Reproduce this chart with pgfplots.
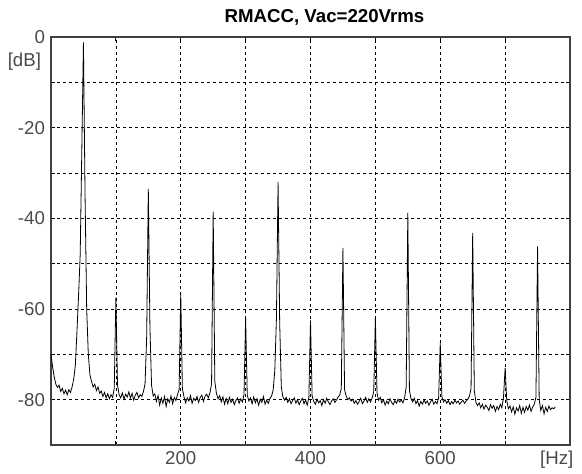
\documentclass[border=0pt]{standalone}
\usepackage{pgfplots}
\pgfplotsset{compat=1.18}
\usepackage{fontspec}
\setmainfont{Liberation Sans}
\definecolor{lbl}{HTML}{4A4A4A}
\begin{document}
\begin{tikzpicture}
\path[use as bounding box] (-38.25pt,-21.75pt) rectangle (398.25pt,333.75pt);
\begin{axis}[
    scale only axis,
    width=389.25pt, height=306pt,
    xmin=0, xmax=800,
    ymin=-90, ymax=0,
    xtick={100,200,...,700},
    xticklabels={,200,,400,,600,},
    ytick={-80,-70,...,0},
    yticklabels={-80,,-60,,-40,,-20,,0},
    grid=major,
    grid style={black, line width=0.5pt, dash pattern=on 2.5pt off 2pt},
    axis line style={black!75, line width=0.8pt},
    tick style={black, line width=0.6pt},
    major tick length=3pt,
    tick label style={font=\fontsize{14}{16}\selectfont, text=lbl},
    xticklabel style={yshift=-1pt},
    yticklabel style={xshift=-1pt},
    clip=false
]
\addplot[black, line width=0.6pt, mark=none] coordinates {
(0,-70.0) (2.5,-72.8) (5,-75.0) (7.5,-76.6) (10,-77.3) (12.5,-76.8) (15,-78.2) (17.5,-77.5) (20,-78.7) (22.5,-77.9)
(25,-78.9) (27.5,-77.8) (30,-78.4) (32.5,-77.2) (35,-75.5) (37.5,-72.5) (40,-65) (42.5,-57) (45,-48) (47.5,-25)
(50,-1.2) (52.5,-35) (55,-60) (57.5,-70) (60,-74.5) (62.5,-76.0) (65,-77.2) (67.5,-76.6) (70,-78.0)
(72.5,-77.2) (75,-78.6) (77.5,-78.1) (80,-79.3) (82.5,-78.4) (85,-79.6) (87.5,-78.7) (90,-79.8) (92.5,-78.9) (95,-79.5)
(97.5,-77.5) (100,-57.5) (102.5,-76.8) (105,-78.9) (107.5,-79.6) (110,-78.5) (112.5,-79.9) (115,-78.8) (117.5,-79.4) (120,-78.3)
(122.5,-79.7) (125,-78.6) (127.5,-80.1) (130,-79.0) (132.5,-78.4) (135,-79.6) (137.5,-78.9) (140,-79.3) (142.5,-78.2) (145,-76.5)
(147.5,-66) (150,-33.5) (152.5,-64) (155,-76.8) (157.5,-79.2) (160,-78.7) (162.5,-80.4) (165,-79.1) (167.5,-81.2) (170,-79.6)
(172.5,-80.8) (175,-79.3) (177.5,-81.5) (180,-79.8) (182.5,-80.6) (185,-79.2) (187.5,-80.9) (190,-79.5) (192.5,-80.2) (195,-78.9)
(197.5,-77.8) (200,-56.5) (202.5,-77.5) (205,-79.4) (207.5,-80.7) (210,-79.6) (212.5,-80.3) (215,-79.1) (217.5,-80.8) (220,-79.7)
(222.5,-80.2) (225,-79.3) (227.5,-80.6) (230,-79.5) (232.5,-79.0) (235,-80.4) (237.5,-79.2) (240,-78.8) (242.5,-79.6) (245,-78.5)
(247.5,-76.5) (250,-38.5) (252.5,-76.0) (255,-78.6) (257.5,-79.8) (260,-79.1) (262.5,-80.5) (265,-79.4) (267.5,-81.0) (270,-79.7)
(272.5,-80.9) (275,-79.5) (277.5,-80.6) (280,-79.9) (282.5,-81.1) (285,-80.2) (287.5,-79.6) (290,-80.8) (292.5,-79.8) (295,-80.5)
(297.5,-78.9) (300,-62) (302.5,-79.0) (305,-80.3) (307.5,-79.6) (310,-80.9) (312.5,-79.4) (315,-80.7) (317.5,-79.8) (320,-81.2)
(322.5,-79.9) (325,-80.6) (327.5,-79.3) (330,-81.0) (332.5,-80.1) (335,-80.8) (337.5,-79.7) (340,-79.2) (342.5,-77.8) (345,-73.5)
(347.5,-62) (350,-32) (352.5,-63) (355,-77.2) (357.5,-79.4) (360,-80.1) (362.5,-79.5) (365,-80.6) (367.5,-79.8) (370,-80.9)
(372.5,-80.2) (375,-79.6) (377.5,-80.8) (380,-80.0) (382.5,-81.1) (385,-80.3) (387.5,-79.7) (390,-80.9) (392.5,-80.1) (395,-81.2)
(397.5,-79.5) (400,-62.5) (402.5,-79.2) (405,-80.4) (407.5,-81.0) (410,-79.9) (412.5,-80.7) (415,-80.2) (417.5,-81.3) (420,-80.0)
(422.5,-80.8) (425,-79.7) (427.5,-80.5) (430,-81.1) (432.5,-80.3) (435,-79.8) (437.5,-80.6) (440,-80.1) (442.5,-79.4) (445,-79.0)
(447.5,-77.5) (450,-46.5) (452.5,-77.8) (455,-79.2) (457.5,-80.0) (460,-79.6) (462.5,-80.3) (465,-79.9) (467.5,-80.8) (470,-80.2)
(472.5,-81.0) (475,-80.4) (477.5,-79.7) (480,-80.9) (482.5,-80.3) (485,-79.5) (487.5,-80.6) (490,-79.8) (492.5,-80.5) (495,-79.6)
(497.5,-78.2) (500,-62) (502.5,-78.5) (505,-80.1) (507.5,-79.5) (510,-80.7) (512.5,-80.0) (515,-81.2) (517.5,-80.3) (520,-80.9)
(522.5,-79.8) (525,-80.6) (527.5,-81.1) (530,-80.2) (532.5,-80.8) (535,-79.9) (537.5,-80.5) (540,-80.1) (542.5,-80.7) (545,-79.6)
(547.5,-77.2) (550,-38.8) (552.5,-78.0) (555,-79.8) (557.5,-80.5) (560,-79.7) (562.5,-80.9) (565,-80.2) (567.5,-81.4) (570,-80.4)
(572.5,-81.0) (575,-80.1) (577.5,-80.8) (580,-80.3) (582.5,-81.2) (585,-80.5) (587.5,-79.9) (590,-81.0) (592.5,-80.4) (595,-80.9)
(597.5,-79.6) (600,-67.5) (602.5,-79.3) (605,-80.5) (607.5,-80.0) (610,-80.8) (612.5,-80.2) (615,-81.1) (617.5,-80.4) (620,-80.9)
(622.5,-80.1) (625,-80.7) (627.5,-80.3) (630,-81.0) (632.5,-80.5) (635,-80.1) (637.5,-80.8) (640,-80.3) (642.5,-79.9) (645,-79.2)
(647.5,-77.5) (650,-43.2) (652.5,-78.0) (655,-80.6) (657.5,-81.3) (660,-80.7) (662.5,-81.8) (665,-81.0) (667.5,-82.1) (670,-81.2)
(672.5,-81.7) (675,-82.4) (677.5,-81.1) (680,-81.9) (682.5,-81.3) (685,-82.6) (687.5,-81.5) (690,-82.2) (692.5,-81.0) (695,-81.8)
(697.5,-79.5) (700,-73) (702.5,-80.2) (705,-82.0) (707.5,-81.4) (710,-82.7) (712.5,-81.6) (715,-83.2) (717.5,-81.8) (720,-82.5)
(722.5,-81.3) (725,-83.0) (727.5,-81.7) (730,-82.8) (732.5,-81.5) (735,-82.3) (737.5,-81.2) (740,-82.6) (742.5,-81.6) (745,-81.0)
(747.5,-79.5) (750,-46.2) (752.5,-80.0) (755,-82.4) (757.5,-81.3) (760,-83.1) (762.5,-81.7) (765,-82.6) (767.5,-81.4) (770,-82.2)
(772.5,-81.8) (775,-82.0) (777.5,-81.6)
};
\node[font=\bfseries\fontsize{14}{16}\selectfont, anchor=base] at (rel axis cs:0.527,1) [yshift=10.5pt] {RMACC, Vac=220Vrms};
\node[font=\fontsize{14}{16}\selectfont, text=lbl, anchor=east] at (rel axis cs:0,0.94) [xshift=-4pt] {[dB]};
\node[font=\fontsize{14}{16}\selectfont, text=lbl, anchor=east] at (rel axis cs:1,0) [xshift=6pt, yshift=-11pt] {[Hz]};
\end{axis}
\end{tikzpicture}
\end{document}
